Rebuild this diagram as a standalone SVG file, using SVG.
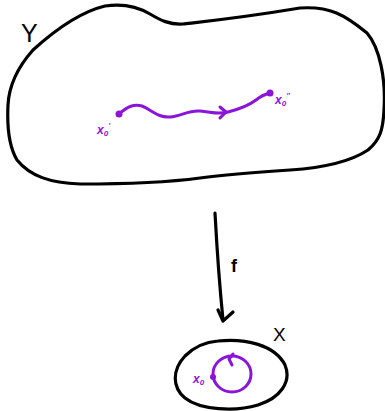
<svg xmlns="http://www.w3.org/2000/svg" width="385" height="411" viewBox="0 0 385 411">
<style>
.blob{fill:none;stroke:#000;stroke-width:3.2;stroke-linecap:round;stroke-linejoin:round}
.pur{fill:none;stroke:#8a14d8;stroke-width:3;stroke-linecap:round;stroke-linejoin:round}
.dot{fill:#8a14d8}
.lbl{font-family:"Liberation Sans",Arial,sans-serif;fill:#000}
.plbl{font-family:"Liberation Sans",Arial,sans-serif;font-style:italic;font-weight:bold;fill:#8a14d8}
</style>
<rect width="385" height="411" fill="#fff"/>
<g id="Y">
<path class="blob" d="M33,50 C55,30 80,12 105,6 C125,3 140,8 150,14 C160,20 170,25 183,24 C200,22 240,18 300,8 C330,6 345,15 367,33 C380,48 386,80 384,110 C383,130 380,140 368,150 C350,162 320,168 290,170 C260,172 230,174 200,178 C170,182 120,184 80,184 C50,183 30,176 17,160 C8,145 7,125 8,105 C9,85 17,68 33,50 Z"/>
<text class="lbl" x="21" y="42" font-size="25">Y</text>
</g>
<g id="X">
<path class="blob" d="M218,341 C245,338 275,345 285,365 C292,382 280,398 258,405 C235,412 200,410 185,398 C172,387 172,370 185,356 C195,346 205,342 218,341 Z"/>
<text class="lbl" x="273" y="341" font-size="19">X</text>
</g>
<g id="path-Y">
<path class="pur" d="M119,114 C128,106 134,104 142,106 C152,110 158,118 170,117 C182,116 188,110 200,111 C212,112 218,115 228,112 C240,109 248,106 256,100 C262,95 266,94 270,93"/>
<path class="pur" d="M220,107 L226,112 L220,118"/>
<circle class="dot" cx="119" cy="114" r="3.5"/>
<circle class="dot" cx="270" cy="93" r="3.5"/>
<text class="plbl" x="97" y="134" font-size="12">x<tspan font-size="8" dy="2">0</tspan><tspan font-size="8" dy="-8">'</tspan></text>
<text class="plbl" x="275" y="104" font-size="12">x<tspan font-size="8" dy="2">0</tspan><tspan font-size="8" dy="-8">''</tspan></text>
</g>
<g id="loop-X">
<ellipse class="pur" cx="232" cy="374" rx="19" ry="18"/>
<path class="pur" d="M233,354 L229,359 L232,365"/>
<circle class="dot" cx="213" cy="377" r="3"/>
<text class="plbl" x="193" y="383" font-size="12">x<tspan font-size="8" dy="2">0</tspan></text>
</g>
<g id="connectors">
<path class="blob" d="M215,213 C217,250 220,290 223,320"/>
<path class="blob" d="M218,310 L223,321 L233,312"/>
<text class="lbl" x="231" y="272" font-size="18" font-weight="bold">f</text>
</g>
</svg>
